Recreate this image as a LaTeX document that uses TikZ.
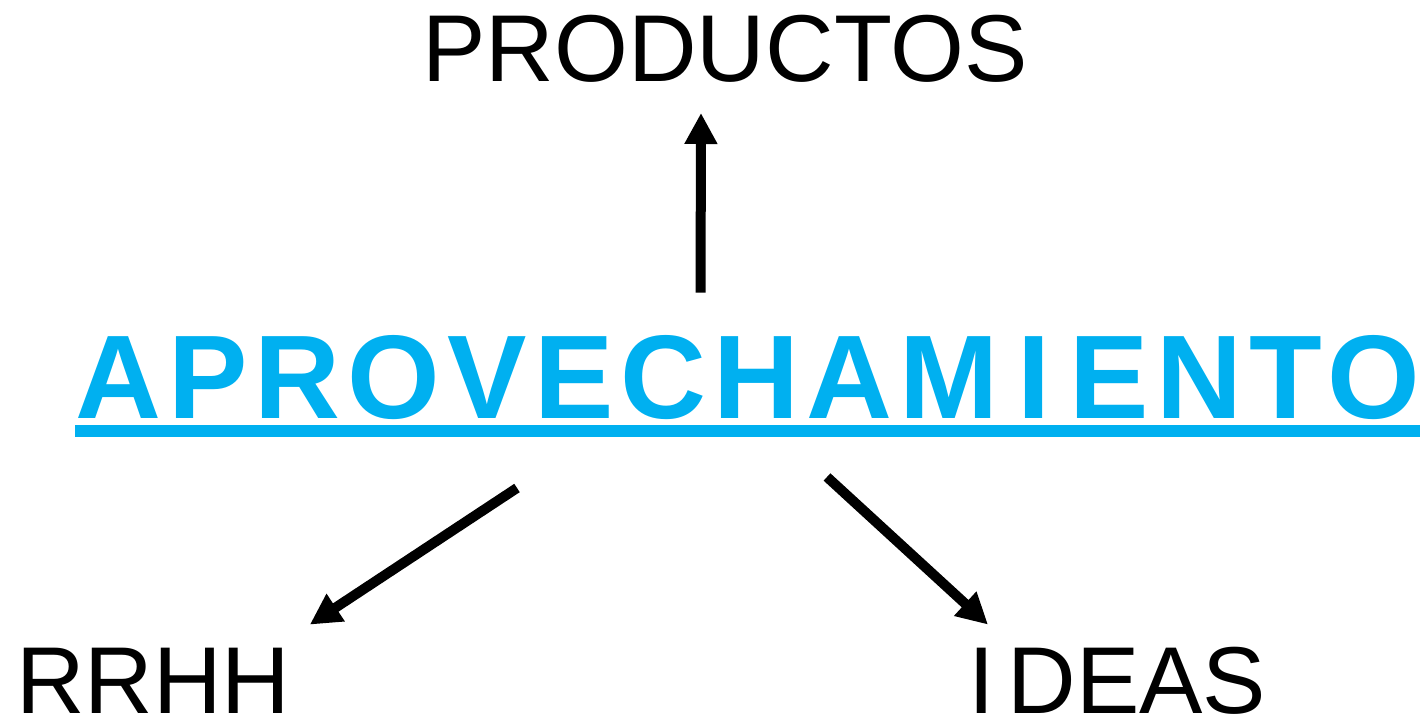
\documentclass[tikz,border=0pt]{standalone}
\usepackage{fontspec}
\setmainfont{Liberation Sans}
\newfontfamily\aprofont{Liberation Sans}[LetterSpace=6.0]
\usepackage{xcolor}
\usetikzlibrary{arrows.meta, positioning, calc}
\definecolor{aproblue}{HTML}{00B0F0}

\begin{document}
\begin{tikzpicture}[
    x=1pt, y=1pt,
    word/.style={
        inner sep=0pt,
        text height=68pt,
        text depth=0pt,
        font=\fontsize{95}{95}\selectfont
    },
    mainword/.style={
        inner sep=0pt,
        text height=85pt,
        text depth=0pt,
        text=aproblue,
        font=\aprofont\bfseries\fontsize{119}{119}\selectfont
    },
    myarrow/.style={
        -{Triangle[length=31pt, width=31pt]},
        line width=10pt,
        draw=black
    },
    uline/.style={
        line width=12pt,
        draw=aproblue
    }
]
\useasboundingbox (0,0) rectangle (1423,720);

% Nodes
\node[mainword, anchor=south west] (apro) at (75,301) {APROVECHAM\kern19pt I\kern19pt ENTO};
\node[word, anchor=south] (prod) at (725,638) {PRODUCTOS};
\node[word, anchor=south west] (rrhh) at (16,6) {RRHH};
\node[word, anchor=south west] (ideas) at (968,6) {I\kern13pt DEAS};

% Underline
\draw[uline] ([yshift=-12pt]apro.south west) -- ([yshift=-12pt]apro.south east);

% Arrows
\draw[myarrow] ([shift={(-47,41)}]apro.north) -- ([shift={(-24,-31)}]prod.south);
\draw[myarrow] ([shift={(442,-69)}]apro.south west) -- ([shift={(19,21)}]rrhh.north east);
\draw[myarrow] ([shift={(752,-58)}]apro.south west) -- ([shift={(20,21)}]ideas.north west);

\end{tikzpicture}
\end{document}
